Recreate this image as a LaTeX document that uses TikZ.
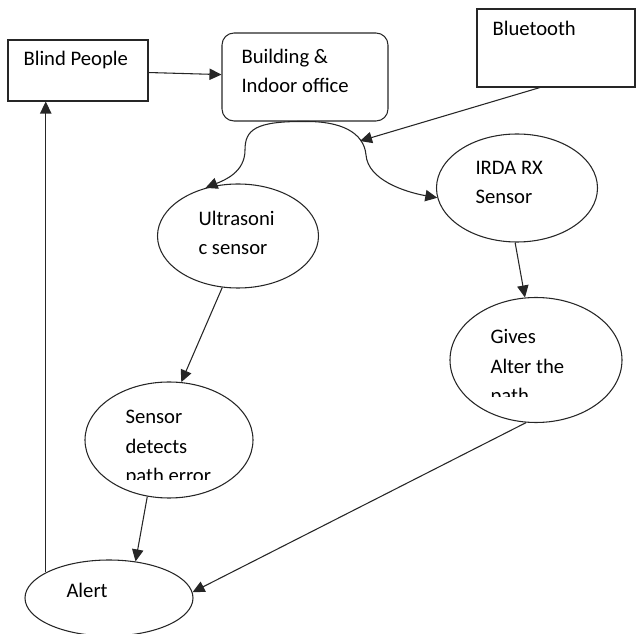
\documentclass[tikz,border=0pt]{standalone}
\usepackage{fontspec}
\setmainfont{Carlito}
\usepackage{tikz}
\usetikzlibrary{shapes.geometric,arrows.meta}
\tikzset{
  font={\fontsize{15.5pt}{22.3pt}\selectfont}}

\begin{document}
\begin{tikzpicture}[x=0.75pt, y=-0.75pt, line width=0.8pt, draw=black!85,
  >={Triangle[length=9pt,width=8.5pt]},
  box/.style = {draw, rectangle, inner sep=0pt},
  oval/.style = {draw, ellipse, inner sep=0pt},
  txt/.style = {anchor=base west, inner sep=0pt, align=left}]
\useasboundingbox (0,0) rectangle (636,634);
\node[box, minimum width=105pt, minimum height=45.75pt] (1) at (78,70.5) {};
\node[box, rounded corners=9pt, minimum width=124.5pt, minimum height=66pt] (2) at (305,77) {};
\node[box, minimum width=118.5pt, minimum height=58.5pt] (3) at (556,48) {};
\node[oval, minimum width=120.75pt, minimum height=78pt] (4) at (238,236) {};
\node[oval, minimum width=120.75pt, minimum height=81pt] (5) at (517,188) {};
\node[oval, minimum width=129pt, minimum height=93.75pt] (6) at (536,360) {};
\node[oval, minimum width=126pt, minimum height=87pt] (7) at (169,440) {};
\node[oval, minimum width=126pt, minimum height=57pt] (8) at (109,598) {};

\node[txt] (1t) at (23,66) {Blind People};
\node[txt] (2t) at (241,93) {Building \&\\Indoor office};
\node[txt] (3t) at (492,36) {Bluetooth};
\node[txt] (4t) at (198,255) {Ultrasoni\\c sensor};
\node[txt] (5t) at (475,204) {IRDA RX\\Sensor};
\begin{scope}
\clip (440,300) rectangle (630,397);
\node[txt] (6t) at (490,403) {Gives\\Alter the\\path};
\end{scope}
\begin{scope}
\clip (90,390) rectangle (250,480);
\node[txt] (7t) at (125,483) {Sensor\\detects\\path error};
\end{scope}
\node[txt] (8t) at (66,598) {Alert};

\coordinate (jn) at (360,141);
\draw[->] (1) -- (2);
\draw[->] (2.south) .. controls (255,121) and (245,130) .. (245,150) .. controls (245,172) and (225,180) .. (4.124);
\draw[->] (2.south) .. controls (340,121) and (364,132) .. (366,155) .. controls (368,180) and (405,192) .. (5.187);
\draw[->] ([xshift=-12pt]3.south) -- (jn);
\draw[->] (4.253) -- (7.78);
\draw[->] (5.268) -- (6.100);
\draw[->] (7.249) -- (8.54);
\draw[->] (6.261) -- (8.4);
\draw[->] (8.158) -- (8.158 |- 1.south);
\end{tikzpicture}
\end{document}
